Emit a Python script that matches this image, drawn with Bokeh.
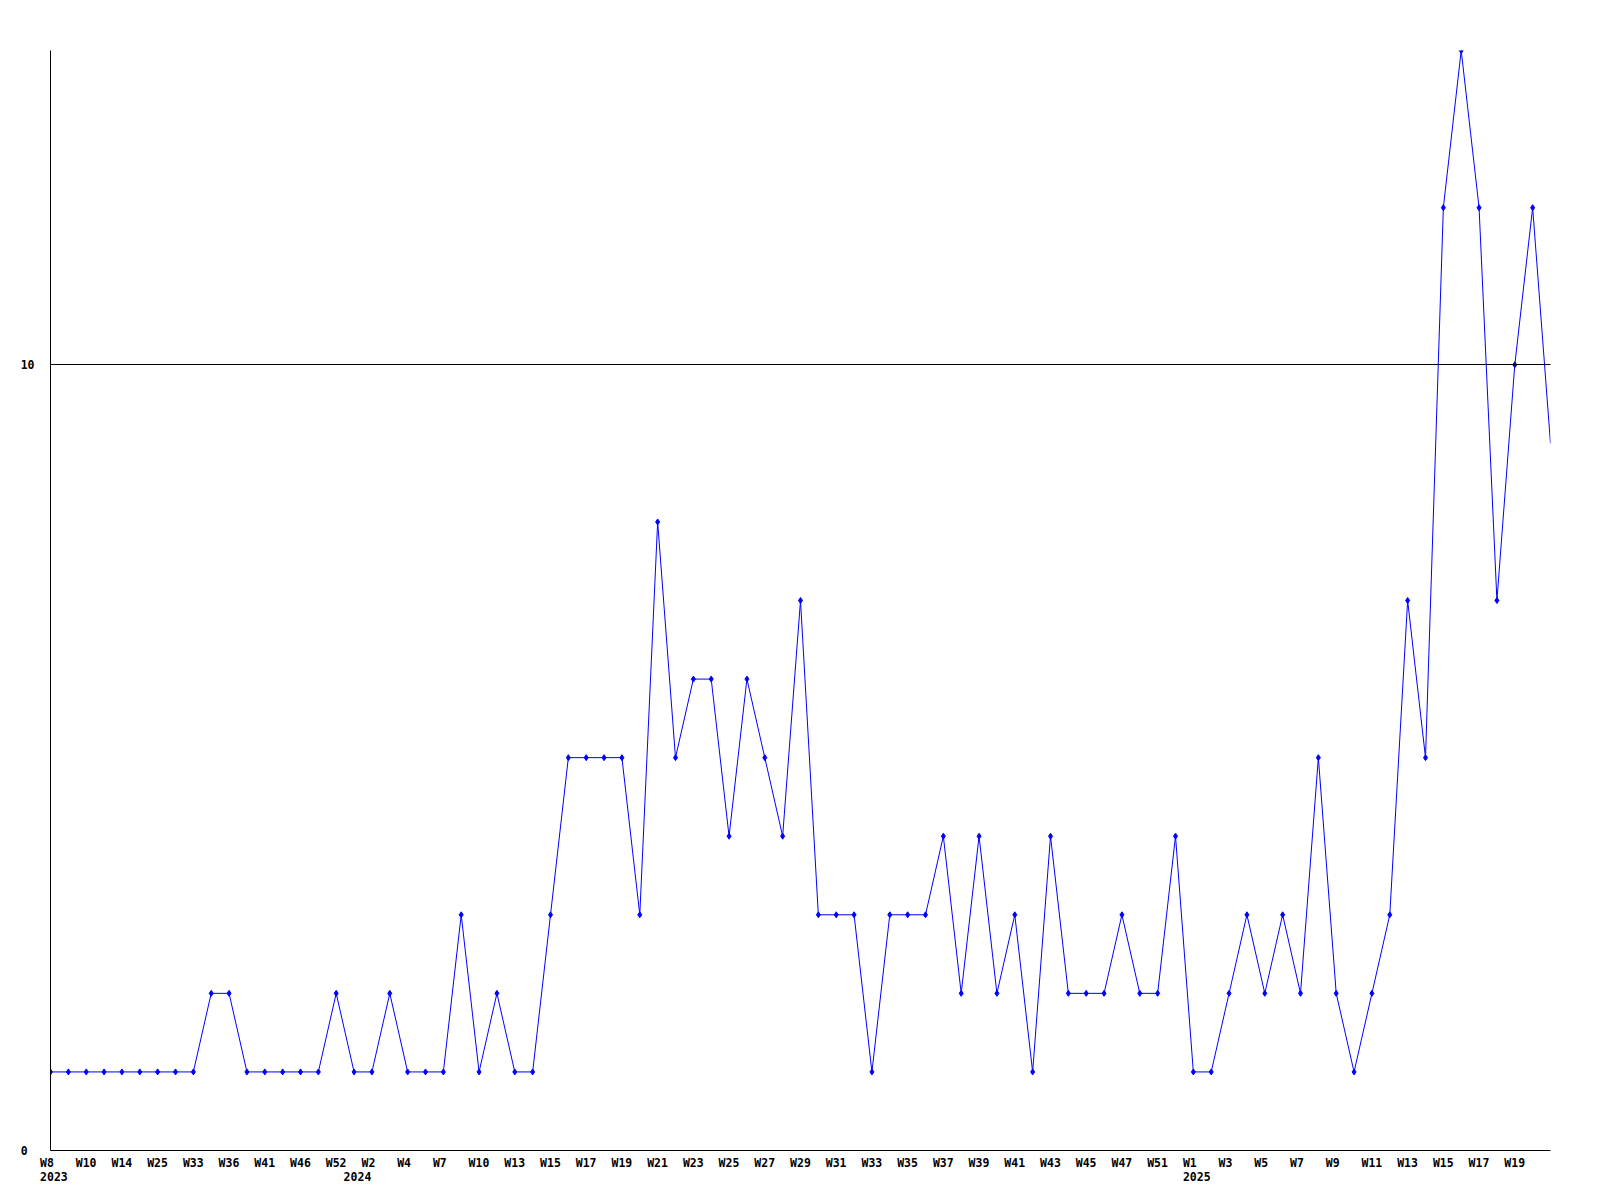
from bokeh.plotting import figure
from bokeh.models import Range1d, FixedTicker, LinearAxis
from bokeh.embed import file_html
from bokeh.resources import INLINE

# weekly counts (one value per reported week, in order)
values = [1, 1, 1, 1, 1, 1, 1, 1, 1, 2, 2, 1, 1, 1, 1, 1, 2, 1, 1, 2,
          1, 1, 1, 3, 1, 2, 1, 1, 3, 5, 5, 5, 5, 3, 8, 5, 6, 6, 4, 6,
          5, 4, 7, 3, 3, 3, 1, 3, 3, 3, 4, 2, 4, 2, 3, 1, 4, 2, 2, 2,
          3, 2, 2, 4, 1, 1, 2, 3, 2, 3, 2, 5, 2, 1, 2, 3, 7, 5, 12, 14,
          12, 7, 10, 12, 9]

# labels shown under every second week
week_labels = ["W8", "W10", "W14", "W25", "W33", "W36", "W41", "W46", "W52",
               "W2", "W4", "W7", "W10", "W13", "W15", "W17", "W19", "W21",
               "W23", "W25", "W27", "W29", "W31", "W33", "W35", "W37", "W39",
               "W41", "W43", "W45", "W47", "W51", "W1", "W3", "W5", "W7",
               "W9", "W11", "W13", "W15", "W17", "W19"]

# year labels and the week index of each year's first reported week
years = ["2023", "2024", "2025"]
year_index = [0, 17, 64]

y_ticks = [0, 10]
ref_line = [10]

FONT = "DejaVu Sans Mono"
FSIZE = "11.5px"
BLUE = "#0000ff"

n = len(values)
xs = list(range(n))

p = figure(width=1584, height=1190, output_backend="svg", toolbar_location=None,
           x_range=Range1d(0, n - 1), y_range=Range1d(0, 14),
           x_axis_location=None, y_axis_location=None,
           min_border_left=50, min_border_right=34, min_border_top=50,
           min_border_bottom=40)
p.outline_line_color = None
p.background_fill_color = "white"
p.border_fill_color = "white"

# data
p.line(xs, values, line_color=BLUE, line_width=1)
p.scatter(xs[:-1], values[:-1], marker="diamond", size=6,
          fill_color=BLUE, line_color=BLUE, line_width=1)

# y axis
yaxis = LinearAxis(ticker=FixedTicker(ticks=y_ticks))
yaxis.major_tick_out = 0
yaxis.major_tick_in = 0
yaxis.minor_tick_out = 0
yaxis.minor_tick_in = 0
yaxis.axis_line_color = "black"
yaxis.axis_line_width = 1
yaxis.major_label_standoff = 16
yaxis.major_label_text_font = FONT
yaxis.major_label_text_font_style = "bold"
yaxis.major_label_text_font_size = FSIZE
yaxis.major_label_text_color = "black"
yaxis.major_label_overrides = {0: "0\u00a0", 10: "10"}
p.add_layout(yaxis, "left")

# x axis (labels slightly shifted so that they start just left of the point)
shift = 0.19
p.extra_x_ranges = {"lab": Range1d(-shift, n - 1 - shift)}
week_ticks = list(range(0, n - 1, 2))
overrides = {}
for t, lab in zip(week_ticks, week_labels):
    overrides[t] = lab + "\u00a0" * (4 - len(lab))
for yr, t in zip(years, year_index):
    first = overrides.get(t, "\u00a0")
    overrides[t] = first + "\n" + yr
all_ticks = sorted(set(week_ticks) | set(year_index))

xaxis = LinearAxis(x_range_name="lab", ticker=FixedTicker(ticks=all_ticks))
xaxis.major_label_overrides = overrides
xaxis.major_tick_out = 0
xaxis.major_tick_in = 0
xaxis.minor_tick_out = 0
xaxis.minor_tick_in = 0
xaxis.axis_line_color = "black"
xaxis.axis_line_width = 1
xaxis.major_label_standoff = 5
xaxis.major_label_text_font = FONT
xaxis.major_label_text_font_style = "bold"
xaxis.major_label_text_font_size = FSIZE
xaxis.major_label_text_color = "black"
xaxis.major_label_text_line_height = 1.05
p.add_layout(xaxis, "below")

# reference line at 10
p.xgrid.visible = False
p.ygrid.ticker = FixedTicker(ticks=ref_line)
p.ygrid.grid_line_color = "black"
p.ygrid.grid_line_width = 1
p.ygrid.level = "overlay"

open("out.html", "w").write(file_html(p, INLINE))
